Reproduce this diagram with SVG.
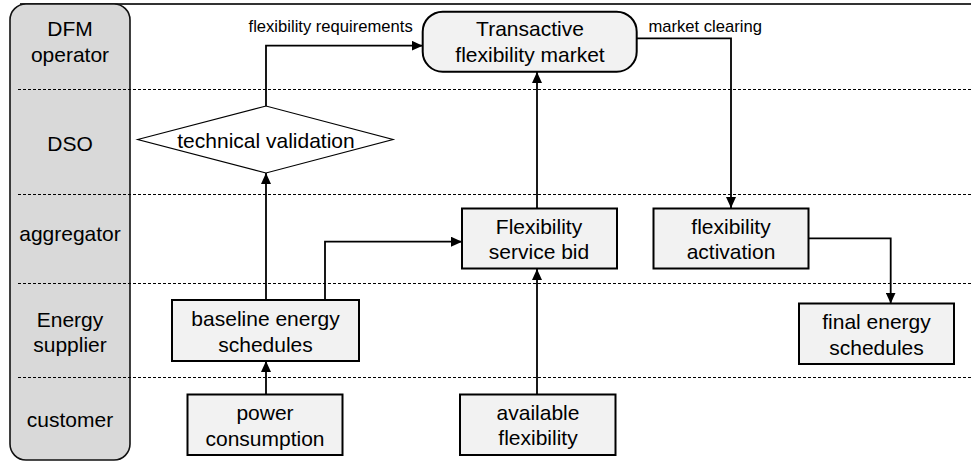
<svg xmlns="http://www.w3.org/2000/svg" width="971" height="461" viewBox="0 0 971 461">
  <style>
    text { font-family: "Liberation Sans", Arial, sans-serif; fill: #000; }
    .lane { font-size: 21px; text-anchor: middle; }
    .node { font-size: 21px; text-anchor: middle; }
    .lbl { font-size: 16.6px; }
    .box { fill: #f2f2f2; stroke: #000; stroke-width: 2; }
    .sep { stroke: #000; stroke-width: 1; stroke-dasharray: 3 2; fill: none; }
    .conn { fill: none; stroke: #000; stroke-width: 1.8; marker-end: url(#arrow); }
  </style>
  <defs>
    <marker id="arrow" markerUnits="userSpaceOnUse" markerWidth="11" markerHeight="10" refX="11" refY="5" orient="auto">
      <path d="M0,0 L11,5 L0,10 z" fill="#000"/>
    </marker>
  </defs>

  <rect width="971" height="461" fill="#fff"/>

  <!-- swimlane header column and frame -->
  <g id="lanes">
    <line x1="20" y1="4" x2="971" y2="4" stroke="#333" stroke-width="2"/>
    <rect x="10" y="4" width="120" height="456" rx="16" ry="16" fill="#d9d9d9" stroke="#111" stroke-width="1.6"/>
    <line class="sep" x1="18" y1="89.5" x2="971" y2="89.5"/>
    <line class="sep" x1="18" y1="194.5" x2="971" y2="194.5"/>
    <line class="sep" x1="18" y1="283.5" x2="971" y2="283.5"/>
    <line class="sep" x1="18" y1="377.5" x2="971" y2="377.5"/>
    <text class="lane" x="70" y="36">DFM</text>
    <text class="lane" x="70" y="62">operator</text>
    <text class="lane" x="70" y="151">DSO</text>
    <text class="lane" x="70" y="241">aggregator</text>
    <text class="lane" x="70" y="327">Energy</text>
    <text class="lane" x="70" y="352">supplier</text>
    <text class="lane" x="70" y="427">customer</text>
  </g>

  <!-- connectors -->
  <g id="connectors">
    <path class="conn" d="M266,106 V45.7 H422.7"/>
    <path class="conn" d="M637,38.3 H731 V208"/>
    <path class="conn" d="M537,208.5 V72"/>
    <path class="conn" d="M537,394.5 V269"/>
    <path class="conn" d="M266,394.5 V361"/>
    <path class="conn" d="M266,300 V173"/>
    <path class="conn" d="M325,300 V241.7 H462"/>
    <path class="conn" d="M808.5,238.3 H890.7 V303.5"/>
    <text class="lbl" x="412.7" y="31.5" text-anchor="end">flexibility requirements</text>
    <text class="lbl" x="648.5" y="31.5">market clearing</text>
  </g>

  <g id="market">
    <rect class="box" x="422.7" y="11.7" width="214" height="60" rx="20" ry="20"/>
    <text class="node" x="530" y="36">Transactive</text>
    <text class="node" x="530" y="62">flexibility market</text>
  </g>

  <g id="validation">
    <polygon points="137.7,139.5 266,106 393,139.5 266,173" fill="#fff" stroke="#000" stroke-width="1.2"/>
    <text class="node" x="266" y="148">technical validation</text>
  </g>

  <g id="bid">
    <rect class="box" x="462" y="208.5" width="155" height="60"/>
    <text class="node" x="539" y="233.5">Flexibility</text>
    <text class="node" x="539" y="259">service bid</text>
  </g>

  <g id="activation">
    <rect class="box" x="653.5" y="208.5" width="155" height="60"/>
    <text class="node" x="731" y="233.5">flexibility</text>
    <text class="node" x="731" y="259">activation</text>
  </g>

  <g id="baseline">
    <rect class="box" x="172" y="300" width="187" height="61"/>
    <text class="node" x="265.5" y="326">baseline energy</text>
    <text class="node" x="265.5" y="352">schedules</text>
  </g>

  <g id="final">
    <rect class="box" x="799" y="303.5" width="155" height="60.5"/>
    <text class="node" x="876.5" y="329">final energy</text>
    <text class="node" x="876.5" y="354.5">schedules</text>
  </g>

  <g id="consumption">
    <rect class="box" x="187.5" y="394.5" width="155" height="60.5"/>
    <text class="node" x="265" y="420">power</text>
    <text class="node" x="265" y="445.5">consumption</text>
  </g>

  <g id="available">
    <rect class="box" x="460" y="394.5" width="155.5" height="60.5"/>
    <text class="node" x="538" y="419.5">available</text>
    <text class="node" x="538" y="445">flexibility</text>
  </g>
</svg>
